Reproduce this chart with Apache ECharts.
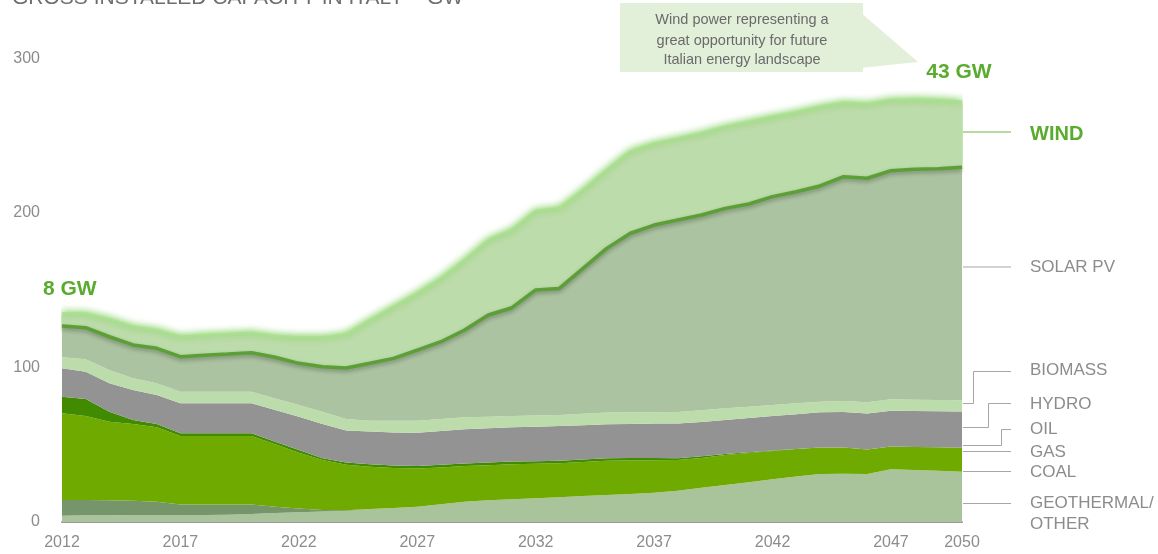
<!DOCTYPE html>
<html>
<head>
<meta charset="utf-8">
<script src="https://cdn.jsdelivr.net/npm/echarts@6/dist/echarts.min.js"></script>
<style>
html,body{margin:0;padding:0;background:#fff;}
#chart{width:1158px;height:554px;}
</style>
</head>
<body>
<div id="chart"></div>
<script>
const years = ['2012','2013','2014','2015','2016','2017','2018','2019','2020','2021','2022','2023','2024','2025','2026','2027','2028','2029','2030','2031','2032','2033','2034','2035','2036','2037','2038','2039','2040','2041','2042','2043','2044','2045','2046','2047','2048','2049','2050'];
const tickLabels = ['2012','2017','2022','2027','2032','2037','2042','2047','2050'];
const yTicks = [0, 100, 200, 300];

const geothermalOther = [4.1,4.3,4.4,4.5,4.5,4.5,4.6,4.7,5.2,5.8,6.3,6.8,7.2,8.4,9.1,9.9,11.5,13.1,14.0,14.7,15.3,16.0,16.8,17.5,18.2,18.9,20.3,22.1,23.9,25.7,27.6,29.4,31.1,31.3,31.0,34.1,33.6,33.1,32.6];
const coal = [10.1,9.9,9.6,9.3,8.6,6.9,6.8,6.7,6.1,4.1,2.5,1.0,0.4,0,0,0,0,0,0,0,0,0,0,0,0,0,0,0,0,0,0,0,0,0,0,0,0,0,0];
const gas = [56.2,54.4,50.9,49.6,48.2,44.3,44.3,44.3,44.4,40.4,36.1,32.3,29.4,27.3,25.9,24.7,23.8,23.1,22.8,22.7,22.4,22.0,22.0,22.1,21.8,21.1,19.9,19.4,19.4,18.9,18.4,17.8,17.2,17.0,16.0,14.7,15.0,15.3,15.5];
const oil = [10.7,11.0,6.5,2.6,2.1,1.7,1.7,1.7,1.7,1.7,1.7,1.1,1.5,1.6,1.6,1.6,1.7,1.7,1.7,1.7,1.7,1.7,1.6,1.6,1.5,1.5,1.0,1.0,0.7,0.5,0.2,0.1,0,0,0,0,0,0,0];
const hydro = [18.4,17.7,18.4,19.4,18.8,19.4,19.4,19.4,19.4,20.5,21.6,22.2,20.8,21.2,21.4,21.6,21.9,22.1,22.1,22.2,22.3,22.4,22.2,22.0,21.9,22.3,22.5,22.3,22.0,22.2,22.4,22.5,22.7,22.9,23.3,23.2,23.2,23.3,23.4];
const biomass = [7.1,8.0,8.6,7.6,7.6,7.5,7.5,7.5,7.5,7.5,7.5,8.0,7.4,7.1,7.5,7.8,7.8,7.8,7.6,7.3,7.2,7.1,7.4,7.6,7.6,7.3,7.5,7.6,7.6,7.3,7.1,7.0,6.9,7.1,7.2,7.4,7.4,7.3,7.3];
const solarPV = [20.3,20.5,21.5,21.6,22.6,22.7,23.7,24.4,25.3,26.6,27.0,29.1,33.0,37.1,40.4,45.7,50.0,56.5,65.8,70.1,81.3,82.0,94.2,106.3,115.9,121.1,124.3,126.3,129.4,131.2,134.9,137.0,139.6,145.2,145.0,148.0,149.1,149.7,150.8];
const wind = [8.2,9.2,11.3,11.8,11.9,12.9,13.0,13.0,12.9,13.8,16.8,19.0,21.8,28.0,33.5,36.7,41.0,45.3,48.5,50.3,51.3,51.8,50.7,50.7,53.1,52.8,52.8,52.9,52.9,53.3,51.7,51.4,51.3,47.9,48.1,45.7,45.2,44.4,42.5];

const FONT = 'Liberation Sans, Arial, Helvetica, sans-serif';
const GREY_TXT = '#8c8c8c';
const GREEN_TXT = '#5aab2e';
const LEAD = '#a6a6a6';

function layer(name, data, color, extra) {
  return Object.assign({
    name: name,
    type: 'line',
    stack: 'total',
    data: data,
    symbol: 'none',
    smooth: false,
    z: 3,
    lineStyle: { width: 0 },
    areaStyle: { color: color, opacity: 1 },
    emphasis: { disabled: true }
  }, extra || {});
}

const chart = echarts.init(document.getElementById('chart'), null, { renderer: 'canvas' });

const txt = (x, y, text, opts) => ({
  type: 'text', x: x, y: y, silent: true, z: 50,
  style: Object.assign({ text: text, fontFamily: FONT, fontSize: 17, fill: GREY_TXT, align: 'left', verticalAlign: 'middle' }, opts || {})
});
const pl = (points, color) => ({
  type: 'polyline', silent: true, z: 50,
  shape: { points: points },
  style: { stroke: color || LEAD, lineWidth: 1, fill: null }
});

chart.setOption({
  animation: false,
  backgroundColor: '#ffffff',
  grid: { left: 62, right: 196, top: 58.5, bottom: 32, containLabel: false },
  xAxis: {
    type: 'category',
    data: years,
    boundaryGap: false,
    axisLine: { show: true, lineStyle: { color: '#9a9a9a', width: 2 } },
    axisTick: { show: false },
    splitLine: { show: false },
    axisLabel: {
      color: GREY_TXT, fontSize: 16, fontFamily: FONT, margin: 13,
      interval: (idx, val) => tickLabels.indexOf(val) >= 0
    }
  },
  yAxis: {
    type: 'value',
    min: yTicks[0],
    max: yTicks[yTicks.length - 1],
    interval: 100,
    axisLine: { show: false },
    axisTick: { show: false },
    splitLine: { show: false },
    axisLabel: { color: GREY_TXT, fontSize: 16, fontFamily: FONT, margin: 22 }
  },
  series: [
    layer('GEOTHERMAL/OTHER', geothermalOther, '#a9c49b'),
    layer('COAL', coal, '#76956a'),
    layer('GAS', gas, '#6eaa00'),
    layer('OIL', oil, '#418b00'),
    layer('HYDRO', hydro, '#939393'),
    layer('BIOMASS', biomass, '#bcdcab'),
    layer('SOLAR PV', solarPV, '#abc3a0', {
      z: 4,
      lineStyle: { width: 3.5, color: '#5c9f37', shadowBlur: 4, shadowColor: 'rgba(0,0,0,0.3)', shadowOffsetY: 2 }
    }),
    layer('WIND', wind, '#bddcab', {
      z: 2,
      lineStyle: { width: 2, color: '#a8e28c', shadowBlur: 7, shadowColor: 'rgba(110,205,70,0.95)' },
      areaStyle: { color: '#bddcab', opacity: 1, shadowBlur: 8, shadowColor: 'rgba(100,190,60,0.85)' }
    })
  ],
  graphic: [
    // title (cut off at the top in the reference)
    txt(12, -2, 'GROSS INSTALLED CAPACITY IN ITALY – GW', { fontSize: 21, fill: '#6e6e6e' }),
    // callout
    { type: 'polygon', silent: true, z: 40, shape: { points: [[860, 12], [918, 62], [860, 68]] }, style: { fill: '#e2efd9' } },
    { type: 'rect', silent: true, z: 41, shape: { x: 620, y: 3, width: 243, height: 69 }, style: { fill: '#e2efd9' } },
    txt(742, 20, 'Wind power representing a', { fontSize: 14.5, fill: '#6a6a6a', align: 'center' }),
    txt(742, 40.5, 'great opportunity for future', { fontSize: 14.5, fill: '#6a6a6a', align: 'center' }),
    txt(742, 60, 'Italian energy landscape', { fontSize: 14.5, fill: '#6a6a6a', align: 'center' }),
    // GW labels
    txt(959, 72.5, '43 GW', { fontSize: 21, fontWeight: 'bold', fill: GREEN_TXT, align: 'center' }),
    txt(43, 289, '8 GW', { fontSize: 21, fontWeight: 'bold', fill: GREEN_TXT }),
    // right legend
    pl([[963, 132], [1011, 132]], '#6cb744'),
    txt(1030, 134, 'WIND', { fontSize: 20, fontWeight: 'bold', fill: GREEN_TXT }),
    pl([[963, 267], [1011, 267]]),
    txt(1030, 267, 'SOLAR PV'),
    pl([[963, 403.5], [973.5, 403.5], [973.5, 371.5], [1011, 371.5]]),
    txt(1030, 370, 'BIOMASS'),
    pl([[963, 427.5], [988.5, 427.5], [988.5, 403.5], [1011, 403.5]]),
    txt(1030, 404, 'HYDRO'),
    pl([[963, 445.5], [1001.5, 445.5], [1001.5, 429.5], [1011, 429.5]]),
    txt(1030, 429.5, 'OIL'),
    pl([[963, 451.5], [1011, 451.5]]),
    txt(1030, 452.5, 'GAS'),
    pl([[963, 471.5], [1011, 471.5]]),
    txt(1030, 472.5, 'COAL'),
    pl([[963, 503.5], [1011, 503.5]]),
    txt(1030, 503.5, 'GEOTHERMAL/'),
    txt(1030, 524.5, 'OTHER')
  ]
});
</script>
</body>
</html>
